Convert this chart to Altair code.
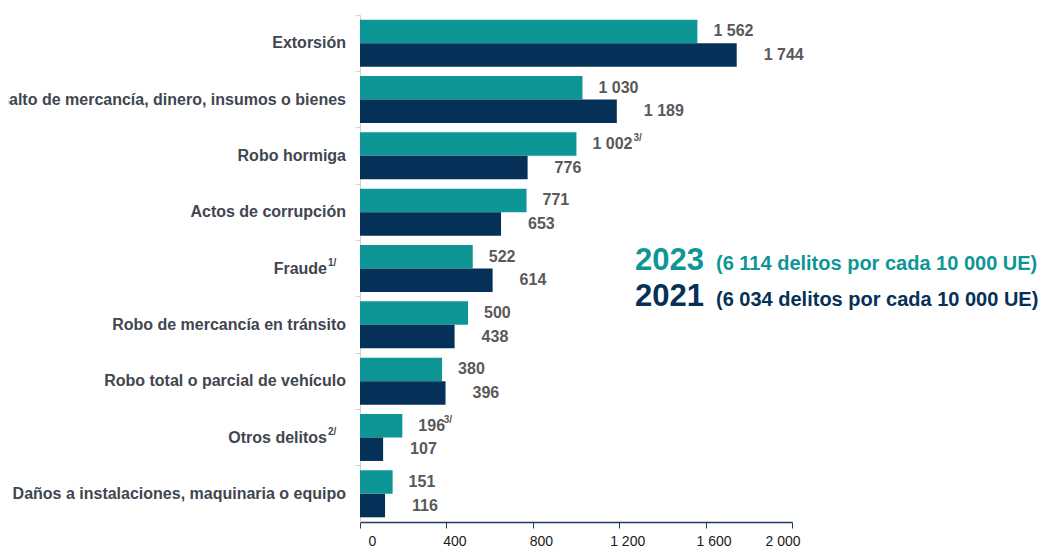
import altair as alt
import pandas as pd

# ---- data ----
categories = [
    "Extorsión",
    "Asalto de mercancía, dinero, insumos o bienes",
    "Robo hormiga",
    "Actos de corrupción",
    "Fraude",
    "Robo de mercancía en tránsito",
    "Robo total o parcial de vehículo",
    "Otros  delitos",
    "Daños a instalaciones, maquinaria o equipo",
]
category_notes = ["", "", "", "", "1/", "", "", "2/", ""]
years = ["2023", "2021"]
values_2023 = [1562, 1030, 1002, 771, 522, 500, 380, 196, 151]
values_2021 = [1744, 1189, 776, 653, 614, 438, 396, 107, 116]
notes_2023 = ["", "", "3/", "", "", "", "", "3/", ""]
notes_2021 = ["", "", "", "", "", "", "", "", ""]
x_ticks = [0, 400, 800, 1200, 1600, 2000]
legend_years = ["2023", "2021"]
legend_notes = ["(6 114 delitos por cada 10 000 UE)", "(6 034 delitos por cada 10 000 UE)"]

# ---- styles ----
TEAL = "#0E9696"
NAVY = "#053159"
FONT = "Liberation Sans"
W, H = 432, 507
U = 2000 / W  # data units per pixel

rows = []
for i, c in enumerate(categories):
    for y, vals, notes in [("2023", values_2023, notes_2023), ("2021", values_2021, notes_2021)]:
        rows.append(dict(category=c, cat_note=category_notes[i], year=y, value=vals[i], note=notes[i]))
df = pd.DataFrame(rows)

base = alt.Chart(df)

y_enc = alt.Y(
    "category:N", sort=categories,
    scale=alt.Scale(paddingInner=0, paddingOuter=0),
    axis=alt.Axis(labels=False, title=None, domainColor="#D0D0D0", tickColor="#D0D0D0",
                  tickSize=5, bandPosition=0),
)
y_plain = alt.Y("category:N", sort=categories)
yoff = alt.YOffset("year:N", sort=years, scale=alt.Scale(paddingInner=0, paddingOuter=0.2))

x_enc = alt.X(
    "value:Q",
    scale=alt.Scale(domain=[0, 2000]),
    axis=alt.Axis(values=x_ticks, labelExpr="replace(format(datum.value, ','), ',', ' ')",
                  title=None, grid=False, domainColor="#1F3864", tickColor="#1F3864",
                  tickSize=6, labelFontSize=14, labelFont=FONT, labelColor="#1A1A1A",
                  labelOffset=8, labelPadding=6, domainWidth=1.5),
)

bars = base.mark_bar().encode(
    y=y_enc, yOffset=yoff, x=x_enc,
    color=alt.Color("year:N", scale=alt.Scale(domain=years, range=[TEAL, NAVY]), legend=None),
)

lab_base = base.transform_calculate(
    lbl="replace(format(datum.value, ','), ',', ' ')",
    lx=f"datum.value + (datum.year == '2023' ? 16 : 27) * {U}",
)
value_labels = lab_base.mark_text(
    align="left", baseline="middle", font=FONT, fontSize=16, fontWeight="bold", color="#595959"
).encode(y=y_plain, yOffset=yoff, x=alt.X("lx:Q", title=None), text="lbl:N")

value_sups = lab_base.transform_filter("datum.note != ''").transform_calculate(
    sx=f"datum.lx + (length(datum.lbl) * 7.8 + 2) * {U}"
).mark_text(
    align="left", baseline="middle", font=FONT, fontSize=10, fontWeight="bold", color="#595959", dy=-6
).encode(y=y_plain, yOffset=yoff, x=alt.X("sx:Q", title=None), text="note:N")

cat_base = base.transform_filter("datum.year == '2023'")
cat_plain = cat_base.transform_filter("datum.cat_note == ''").mark_text(
    align="right", baseline="middle", font=FONT, fontSize=16, fontWeight="bold", color="#3F4650"
).encode(y=y_plain, x=alt.value(-14), text="category:N")
cat_noted = cat_base.transform_filter("datum.cat_note != ''").mark_text(
    align="right", baseline="middle", font=FONT, fontSize=16, fontWeight="bold", color="#3F4650"
).encode(y=y_plain, x=alt.value(-33), text="category:N")
cat_sups = cat_base.transform_filter("datum.cat_note != ''").mark_text(
    align="left", baseline="middle", font=FONT, fontSize=10, fontWeight="bold", color="#3F4650", dy=-6
).encode(y=y_plain, x=alt.value(-32), text="cat_note:N")

legend_layers = []
legend_colors = [TEAL, NAVY]
legend_baselines = [254.5, 291]
for i in range(2):
    ldf = pd.DataFrame({"t": [legend_years[i]], "n": [legend_notes[i]]})
    legend_layers.append(
        alt.Chart(ldf).mark_text(align="left", baseline="alphabetic", font=FONT, fontSize=31,
                                 fontWeight="bold", color=legend_colors[i])
        .encode(text="t:N", x=alt.value(275), y=alt.value(legend_baselines[i]))
    )
    legend_layers.append(
        alt.Chart(ldf).mark_text(align="left", baseline="alphabetic", font=FONT, fontSize=20,
                                 fontWeight="bold", color=legend_colors[i])
        .encode(text="n:N", x=alt.value(356), y=alt.value(legend_baselines[i]))
    )

chart = alt.layer(
    bars, value_labels, value_sups, cat_plain, cat_noted, cat_sups, *legend_layers
).properties(
    width=W, height=H,
    autosize=alt.AutoSizeParams(type="none"),
    padding={"left": 352, "top": 7, "right": 247, "bottom": 32},
    background="white",
).configure_view(stroke=None)

chart.save("out.html", embed_options={"renderer": "svg", "actions": False})
